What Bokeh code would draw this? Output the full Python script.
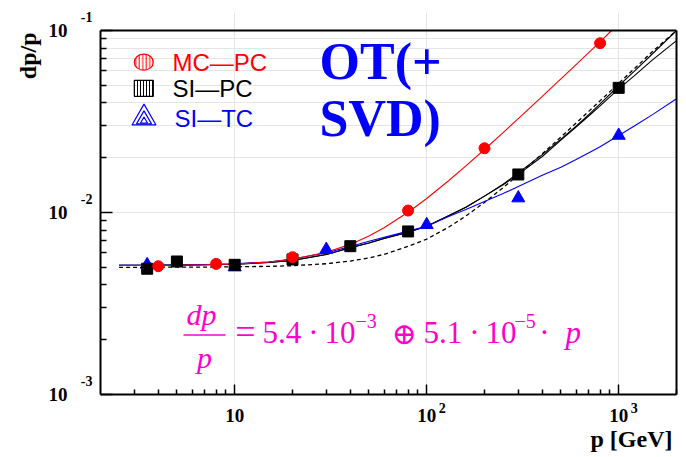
from bokeh.plotting import figure
from bokeh.models import (Range1d, LinearScale, LogScale, Label, FixedTicker, LogAxis,
                          CustomJSTickFormatter, Span, Title)
from bokeh.embed import file_html
from bokeh.resources import INLINE

# ---------------- data ----------------
mc_p = [4, 8, 20, 80, 200, 800]
mc_v = [0.00507, 0.00522, 0.00568, 0.01025, 0.02254, 0.0852]

sipc_p = [3.5, 5, 10, 20, 40, 80, 300, 1000]
sipc_v = [0.00491, 0.00538, 0.00516, 0.00552, 0.00653, 0.00787, 0.01618, 0.0484]

sitc_p = [3.5, 10, 30, 100, 300, 1000]
sitc_v = [0.00516, 0.00501, 0.00626, 0.00856, 0.0120, 0.0265]

# fitted curves, values
curve_p = [2.5, 3.5, 5, 7, 10, 15, 20, 30, 40, 50, 60, 80, 100, 130, 160, 200,
           250, 300, 400, 500, 600, 700, 800, 1000, 1200, 1500, 2000]
red_p = [2.5, 3.5, 5, 7, 10, 15, 20, 30, 40, 50, 60, 80, 100, 130, 160, 200,
         250, 300, 400, 500, 600, 700, 800, 918]
red_curve = [0.00511, 0.00511, 0.00513, 0.00516, 0.00521, 0.00535, 0.00554, 0.00604,
             0.00668, 0.00743, 0.00825, 0.01003, 0.01194, 0.01494, 0.01802, 0.02219,
             0.02748, 0.03280, 0.04350, 0.05424, 0.06500, 0.07577, 0.08655, 0.1000]
black_a = [0.00512, 0.00513, 0.00514, 0.00516, 0.00520, 0.00531, 0.00545, 0.00588,
           0.00640, 0.00680, 0.00720, 0.00780, 0.00840, 0.00960, 0.01070, 0.01230,
           0.01430, 0.01650, 0.02080, 0.02530, 0.02980, 0.03460, 0.03950, 0.04970,
           0.05950, 0.07450, 0.1000]
black_b = [0.00512, 0.00513, 0.00514, 0.00516, 0.00520, 0.00531, 0.00545, 0.00588,
           0.00640, 0.00680, 0.00720, 0.00780, 0.00840, 0.00960, 0.01070, 0.01230,
           0.01420, 0.01620, 0.02030, 0.02500, 0.02950, 0.03400, 0.03850, 0.04780,
           0.05620, 0.06900, 0.08800]
dashed_curve = [0.00500, 0.00500, 0.00501, 0.00501, 0.00503, 0.00506, 0.00510, 0.00523,
                0.00541, 0.00563, 0.00589, 0.00652, 0.00714, 0.00830, 0.00957, 0.01136,
                0.01370, 0.01610, 0.02100, 0.02599, 0.03101, 0.03605, 0.04111, 0.05124,
                0.06139, 0.07666, 0.1000]
blue_curve = [0.00512, 0.00513, 0.00515, 0.00518, 0.00522, 0.00535, 0.00555, 0.00600,
              0.00650, 0.00695, 0.00730, 0.00790, 0.00840, 0.00950, 0.01040, 0.01150,
              0.01270, 0.01390, 0.01600, 0.01775, 0.01955, 0.02130, 0.02300, 0.02650,
              0.02980, 0.03450, 0.04220]

# axes ticks and labels
x_lim = [2, 2000]
y_lim = [0.001, 0.1]
x_major = [10, 100, 1000]
x_minor = [3, 4, 5, 6, 7, 8, 9, 20, 30, 40, 50, 60, 70, 80, 90,
           200, 300, 400, 500, 600, 700, 800, 900, 2000]
x_base = ["10", "10", "10"]
x_exp = ["", "2", "3"]
y_major = [0.001, 0.01, 0.1]
y_minor = [0.002, 0.003, 0.004, 0.005, 0.006, 0.007, 0.008, 0.009,
           0.02, 0.03, 0.04, 0.05, 0.06, 0.07, 0.08, 0.09]
y_base = ["10", "10", "10"]
y_exp = ["-3", "-2", "-1"]

legend_names = ["MC\u2014PC", "SI\u2014PC", "SI\u2014TC"]
legend_colors = ["red", "black", "blue"]
title_lines = ["OT(+", "SVD)"]
x_title = "p [GeV]"
y_title = "dp/p"

# ---------------- layout constants ----------------
MAG = "#ff00cc"
SERIF = "Liberation Serif"
SANS = "Liberation Sans"
FR_L, FR_R, FR_T, FR_B = 100, 676, 12, 394   # bokeh frame, window pixels
BOX_T = 30                                     # top of drawn box
X_DEC = (FR_R - FR_L) / 3.0                    # px per decade
Y_DEC = (FR_B - BOX_T) / 2.0
y_top = y_lim[1] * 10 ** ((BOX_T - FR_T) / Y_DEC)

p = figure(width=684, height=455, x_axis_type="log", y_axis_type="log",
           x_range=Range1d(x_lim[0], x_lim[1]), y_range=Range1d(y_lim[0], y_top),
           x_axis_location=None, y_axis_location=None,
           output_backend="svg", toolbar_location=None, title=None,
           min_border_left=FR_L, min_border_right=684 - FR_R,
           min_border_top=FR_T, min_border_bottom=455 - FR_B)
p.background_fill_color = "white"
p.border_fill_color = "white"
p.outline_line_color = None

xs = 10 ** (-15.5 / X_DEC)   # exponent labels shifted right
ys = 10 ** (-13.5 / Y_DEC)   # exponent labels shifted up
p.extra_x_ranges = {"px": Range1d(FR_L, FR_R), "xexp": Range1d(x_lim[0] * xs, x_lim[1] * xs)}
p.extra_y_ranges = {"px": Range1d(FR_B, FR_T), "yexp": Range1d(y_lim[0] * ys, y_top * ys)}
p.extra_x_scales = {"px": LinearScale(), "xexp": LogScale()}
p.extra_y_scales = {"px": LinearScale(), "yexp": LogScale()}


def fmt(tick_vals, labels):
    return CustomJSTickFormatter(args=dict(tv=tick_vals, lv=labels), code="""
        let best = -1, bd = 1e9;
        for (let i = 0; i < tv.length; i++) {
            const d = Math.abs(Math.log(tick / tv[i]));
            if (d < bd) { bd = d; best = i; }
        }
        return bd < 1e-6 ? lv[best] : '';
    """)


def hide_lines(ax):
    ax.axis_line_color = None
    ax.major_tick_line_color = None
    ax.minor_tick_line_color = None
    ax.major_tick_in = 0
    ax.major_tick_out = 0
    ax.minor_tick_in = 0
    ax.minor_tick_out = 0


def main_axis(tick_vals, minor, bounds, tin, tmin):
    return LogAxis(ticker=FixedTicker(ticks=tick_vals, minor_ticks=minor), bounds=tuple(bounds),
                   formatter=fmt(tick_vals, ["", "", ""]), major_label_standoff=0,
                   major_label_text_font_size="0px", axis_line_width=2,
                   major_tick_line_width=1.5, minor_tick_line_width=1.5,
                   major_tick_in=tin, major_tick_out=0, minor_tick_in=tmin, minor_tick_out=0)


def label_axis(tick_vals, labels, size, standoff, **kw):
    ax = LogAxis(ticker=FixedTicker(ticks=tick_vals, minor_ticks=[]),
                 formatter=fmt(tick_vals, labels),
                 major_label_standoff=standoff, major_label_text_font=SERIF,
                 major_label_text_font_size=f"{size}px", major_label_text_font_style="bold",
                 major_label_text_color="black", **kw)
    hide_lines(ax)
    return ax


# left side: ticks, exponents, "10", title
p.add_layout(main_axis(y_major, y_minor, y_lim, 12, 6), "left")
p.add_layout(label_axis(y_major, y_exp, 14, 8, y_range_name="yexp"), "left")
p.add_layout(label_axis(y_major, y_base, 19, 10), "left")
p.add_layout(Title(text=y_title, align="right", offset=20, standoff=10, text_color="black",
                   text_font=SERIF, text_font_size="24px", text_font_style="bold"), "left")

# bottom side: ticks, exponents, "10", title
p.add_layout(main_axis(x_major, x_minor, x_lim, 10, 5), "below")
p.add_layout(label_axis(x_major, x_exp, 14, 8, x_range_name="xexp"), "below")
p.add_layout(label_axis(x_major, x_base, 19, -7), "below")
p.add_layout(Title(text=x_title, align="right", vertical_align="top", offset=4, standoff=2,
                   text_color="black",
                   text_font=SERIF, text_font_size="24px", text_font_style="bold"), "below")

# right edge and top edge of the box
right_ax = LogAxis(ticker=FixedTicker(ticks=[], minor_ticks=[]), bounds=tuple(y_lim),
                   formatter=fmt(y_major, ["", "", ""]), major_label_text_font_size="0px",
                   major_label_standoff=0, axis_line_width=2,
                   major_tick_in=0, major_tick_out=0, minor_tick_in=0, minor_tick_out=0)
p.add_layout(right_ax, "right")
p.add_layout(Span(location=y_lim[1], dimension="width", line_color="black", line_width=2))

# curves
p.line(curve_p, dashed_curve, line_color="black", line_width=1.3, line_dash="4 3")
p.line(curve_p, black_a, line_color="black", line_width=1.1)
p.line(curve_p, black_b, line_color="black", line_width=1.1)
p.line(curve_p, blue_curve, line_color="blue", line_width=1.1)
p.line(red_p, red_curve, line_color="red", line_width=1.1)

# points
p.scatter(sitc_p, sitc_v, marker="triangle", size=13, color="blue")
p.scatter(sipc_p, sipc_v, marker="square", size=11, color="black")
p.scatter(mc_p, mc_v, marker="circle", size=11, color="red")

# ---------------- legend ----------------
p.ellipse(x=[143.3], y=[61.7], width=19, height=16, fill_color=None,
          hatch_pattern="|", hatch_color="red", hatch_scale=3.5, hatch_weight=1,
          line_color="red", line_width=1.2, x_range_name="px", y_range_name="px")
p.rect(x=[143.3], y=[87.8], width=19, height=16, fill_color=None,
       hatch_pattern="|", hatch_color="black", hatch_scale=3, hatch_weight=1,
       line_color="black", line_width=1.2, x_range_name="px", y_range_name="px")
p.scatter(x=[143.5, 143.5, 143.5], y=[117.5, 119.0, 120.5], size=[24, 15, 7], marker="triangle",
          fill_color=None, line_color="blue", line_width=1.2,
          x_range_name="px", y_range_name="px")


def lab(text, x, y, size, color="black", style="normal", font=SERIF, align="left"):
    # y is the wanted baseline; anchor the text by its middle
    p.add_layout(Label(text=text, x=x, y=y - 0.34 * size, x_range_name="px", y_range_name="px",
                       text_font=font, text_font_size=f"{size}px", text_font_style=style,
                       text_color=color, text_align=align, text_baseline="middle"))


for name, c, lx, ly in zip(legend_names, legend_colors, [172, 172, 174], [70.5, 96.5, 126]):
    lab(name, lx, ly, 24, color=c, font=SANS)

# big title text
lab(title_lines[0], 319, 79, 52, color="blue", style="bold")
lab(title_lines[1], 319, 135.5, 52, color="blue", style="bold")

# formula
lab("dp", 186, 324, 30, color=MAG, style="italic")
p.segment(x0=[183], y0=[334.5], x1=[225], y1=[334.5], line_color=MAG, line_width=1.6,
          x_range_name="px", y_range_name="px")
lab("p", 204, 367, 30, color=MAG, style="italic", align="center")
lab("=", 245, 344, 36, color=MAG, align="center")
lab("5.4", 262, 343, 31, color=MAG)
lab("\u00b7", 313, 343, 31, color=MAG, align="center")
lab("10", 324, 343, 31, color=MAG)
lab("\u22123", 355, 327.5, 20, color=MAG)
lab("\u2295", 403.5, 343, 30, color=MAG, align="center", font="DejaVu Serif")
lab("5.1", 423, 343, 31, color=MAG)
lab("\u00b7", 474, 343, 31, color=MAG, align="center")
lab("10", 485, 343, 31, color=MAG)
lab("\u22125", 514, 327.5, 20, color=MAG)
lab("\u00b7", 544, 343, 31, color=MAG, align="center")
lab("p", 565, 343, 31, color=MAG, style="italic")

open("out.html", "w").write(file_html(p, INLINE))
